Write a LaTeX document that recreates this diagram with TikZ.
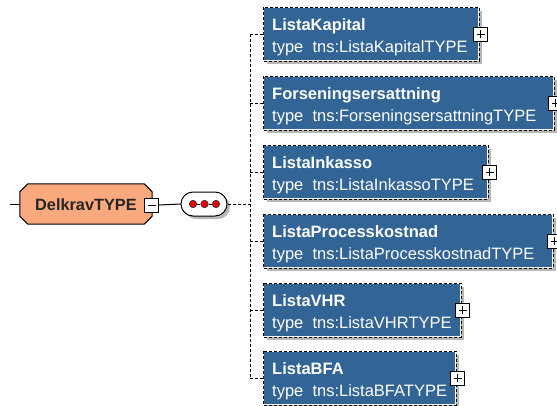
\documentclass[tikz,border=0pt]{standalone}
\usepackage{fontspec}
\setmainfont{Liberation Sans}
\usetikzlibrary{shapes.misc,shadows,calc}
\definecolor{elblue}{RGB}{50,100,150}
\definecolor{rootfill}{RGB}{250,168,125}
\definecolor{dotred}{RGB}{235,0,0}
\tikzset{
  fnt/.style={font=\fontsize{16.5}{18}\selectfont},
  shad/.style={drop shadow={shadow xshift=3pt,shadow yshift=-3pt,fill=black!28,opacity=1}},
  elbox/.style={draw=white,line width=1pt,fill=elblue,shad,minimum height=53pt,anchor=north west,inner sep=0pt},
  elborder/.style={draw=black,line width=1pt,dash pattern=on 3pt off 2pt},
  eltitle/.style={text=white,font=\fontsize{16.5}{18}\selectfont\bfseries,anchor=base west,inner sep=0pt},
  eltype/.style={fnt,text=white,anchor=base west,inner sep=0pt},
  iconbox/.style={draw=black,fill=white,line width=1pt,minimum size=14pt,inner sep=0pt},
  conn/.style={draw=black,line width=1pt},
  dconn/.style={draw=black,line width=1pt,dash pattern=on 3pt off 2pt},
  rootnode/.style={rectangle,minimum width=132pt,minimum height=40pt,inner sep=0pt},
  octo/.style={draw=black,line width=1pt,fill=rootfill},
  octoshadow/.style={fill=black!28},
  seqnode/.style={rounded rectangle,draw=black,line width=1pt,fill=white,shad,minimum width=46pt,minimum height=24pt,inner sep=0pt},
  reddot/.style={circle,draw=black!80,fill=dotred,line width=0.6pt,minimum size=7.5pt,inner sep=0pt},
}
\newcommand{\plusicon}[2]{%
  \node[iconbox] (#1) at (#2) {};
  \draw[line width=1pt] ([xshift=-4pt]#1.center) -- ([xshift=4pt]#1.center)
                        ([yshift=-4pt]#1.center) -- ([yshift=4pt]#1.center);}
\newcommand{\elem}[5]{% name, top, width, title, type
  \node[elbox,minimum width=#3pt] (#1) at (263,#2) {};
  \path[elborder] (#1.north west) rectangle (#1.south east);
  \node[eltitle] (#1t) at ([shift={(9,23)}]#1.north west) {#4};
  \node[eltype] (#1y) at ([shift={(9,45)}]#1.north west) {#5};
  \plusicon{#1p}{$(#1.east)+(1.5,0)$}}
\newcommand{\octpath}[2]{% node, chamfer
  ([xshift=#2pt]#1.north west) -- ([xshift=-#2pt]#1.north east) -- ([yshift=-#2pt]#1.north east)
  -- ([yshift=#2pt]#1.south east) -- ([xshift=-#2pt]#1.south east) -- ([xshift=#2pt]#1.south west)
  -- ([yshift=#2pt]#1.south west) -- ([yshift=-#2pt]#1.north west) -- cycle}
\begin{document}
\begin{tikzpicture}[x=1pt,y=-1pt]
\useasboundingbox (0,0) rectangle (557,405);
% root
\node[rootnode] (root) at (86,204) {};
\path[octoshadow,shift={(3,3)}] \octpath{root}{8};
\path[octo] \octpath{root}{8};
\node[font=\fontsize{16.3}{18}\selectfont\bfseries,text=black!85,anchor=base west,inner sep=0pt] (roott) at (35,210) {DelkravTYPE};
\coordinate (rootin) at (10,204);
\draw[conn] (rootin) -- (root.west);
\node[iconbox] (minus) at (151.5,205) {};
\draw[line width=1pt] ([xshift=-4pt]minus.center) -- ([xshift=4pt]minus.center);
% sequence
\node[seqnode] (seq) at (204,204) {};
\node[reddot] (d1) at (193,204) {};
\node[reddot] (d2) at (204.5,204) {};
\node[reddot] (d3) at (216,204) {};
\draw[line width=1pt] (d1) -- (d2) (d2) -- (d3);
\draw[conn] (minus.east) -- (seq.west);
% elements
\elem{b1}{7}{215}{ListaKapital}{type\ \ tns:ListaKapitalTYPE}
\elem{b2}{76}{290}{Forseningsersattning}{type\ \ tns:ForseningsersattningTYPE}
\elem{b3}{145}{224}{ListaInkasso}{type\ \ tns:ListaInkassoTYPE}
\elem{b4}{214}{289}{ListaProcesskostnad}{type\ \ tns:ListaProcesskostnadTYPE}
\elem{b5}{283}{197}{ListaVHR}{type\ \ tns:ListaVHRTYPE}
\elem{b6}{351}{192}{ListaBFA}{type\ \ tns:ListaBFATYPE}
% connectors
\coordinate (sp) at (250,204);
\draw[dconn] (seq.east) -- (sp);
\draw[dconn] (b1.west -| sp) -- (b6.west -| sp);
\foreach \b in {b1,b2,b3,b4,b5,b6} \draw[dconn] (\b.west -| sp) -- (\b.west);
\end{tikzpicture}
\end{document}
